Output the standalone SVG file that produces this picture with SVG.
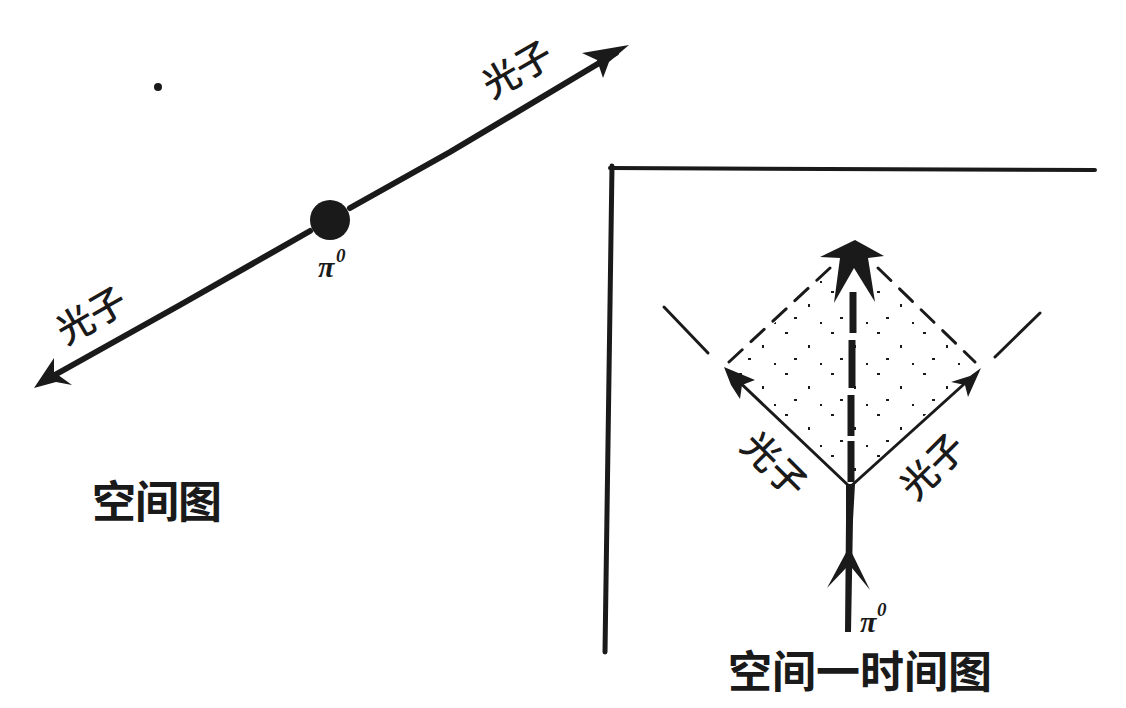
<svg xmlns="http://www.w3.org/2000/svg" width="1126" height="708" viewBox="0 0 1126 708">
<style>
.ln{stroke:#1a1a1a;fill:none;stroke-linecap:round}
.hd{fill:#1a1a1a;stroke:none}
.cjk{font-family:"Noto Sans CJK SC","Noto Sans CJK JP",sans-serif;fill:#1a1a1a}
.lab{font-size:37px;font-weight:500}
.cap{font-size:44px;font-weight:700}
.pi{font-family:"Liberation Serif","DejaVu Serif",serif;font-style:italic;font-weight:700;fill:#1a1a1a}
</style>
<defs>
<pattern id="dots" width="46" height="41" patternUnits="userSpaceOnUse">
<rect x="3" y="4" width="3" height="2" fill="#1a1a1a"/>
<rect x="26" y="17" width="2" height="3" fill="#1a1a1a"/>
<rect x="12" y="30" width="3" height="2" fill="#1a1a1a"/>
<rect x="38" y="35" width="2" height="2" fill="#1a1a1a"/>
</pattern>
<clipPath id="dia"><polygon points="728,366 853,250 977,366 850,487"/></clipPath>
</defs>
<rect width="1126" height="708" fill="#ffffff"/>

<g id="space-diagram">
<g id="connectors-left">
<polyline class="ln" stroke-width="6" points="44,381 180,305 310,231"/>
<polyline class="ln" stroke-width="6" points="350,208 450,152 616,53"/>
<polygon class="hd" points="34,388 54,358 54,372 72,385 56,382"/>
<polygon class="hd" points="629,45 582,53 597,60 603,78 609,62"/>
</g>
<g id="pi0-particle">
<circle cx="330" cy="220" r="20" fill="#1a1a1a"/>
<text class="pi" x="318" y="277" font-size="30">π</text>
<text class="pi" x="336" y="262" font-size="19">0</text>
</g>
<circle id="speck" cx="158" cy="87" r="4" fill="#1a1a1a"/>
<text class="cjk lab" x="0" y="0" text-anchor="middle" transform="translate(524,81) rotate(-30)">光子</text>
<text class="cjk lab" x="0" y="0" text-anchor="middle" transform="translate(98,327) rotate(-30)">光子</text>
<text class="cjk cap" x="92" y="518" font-size="42" textLength="130">空间图</text>
</g>

<g id="spacetime-diagram">
<g id="frame">
<line class="ln" stroke-width="5" stroke-linecap="butt" x1="612" y1="166" x2="605" y2="652"/>
<line class="ln" stroke-width="4" stroke-linecap="butt" x1="610" y1="168" x2="1095" y2="170"/>
</g>
<polygon points="728,366 853,250 977,366 850,487" fill="url(#dots)" clip-path="url(#dia)"/>
<g id="connectors">
<line class="ln" stroke-width="3" x1="664" y1="307" x2="708" y2="353"/>
<line class="ln" stroke-width="3" x1="995" y1="357" x2="1040" y2="313"/>
<line class="ln" stroke-width="3" stroke-dasharray="18,12" x1="729" y1="362" x2="830" y2="268"/>
<line class="ln" stroke-width="3" stroke-dasharray="18,12" x1="878" y1="268" x2="975" y2="362"/>
<line class="ln" stroke-width="3" x1="850" y1="487" x2="732" y2="375"/>
<line class="ln" stroke-width="3" x1="850" y1="487" x2="973" y2="376"/>
<polygon class="hd" points="724,367 755,380 742,385 740,399 731,385"/>
<polygon class="hd" points="981,368 968,397 965,385 951,382 970,376"/>
<g stroke="#1a1a1a" stroke-width="7" fill="none">
<line x1="853" y1="292" x2="853" y2="333"/>
<line x1="852" y1="340" x2="852" y2="388"/>
<line x1="851" y1="395" x2="851" y2="436"/>
<line x1="851" y1="441" x2="851" y2="482"/>
</g>
<polygon class="hd" points="855,240 884,256 868,258 875,302 854,268 834,303 840,258 820,257"/>
<polygon class="hd" points="846,484 855,484 853,520 851,632 845,632 846,520"/>
<polygon class="hd" points="849,547 870,590 852,568 846,568 827,588"/>
<text class="pi" x="860" y="632" font-size="30">π</text>
<text class="pi" x="877" y="616" font-size="19">0</text>
</g>
<text class="cjk lab" x="0" y="0" text-anchor="middle" transform="translate(765,474) rotate(45)">光子</text>
<text class="cjk lab" x="0" y="0" text-anchor="middle" transform="translate(942,476) rotate(-45)">光子</text>
<text class="cjk cap" x="728" y="688" textLength="264">空间一时间图</text>
</g>
</svg>
